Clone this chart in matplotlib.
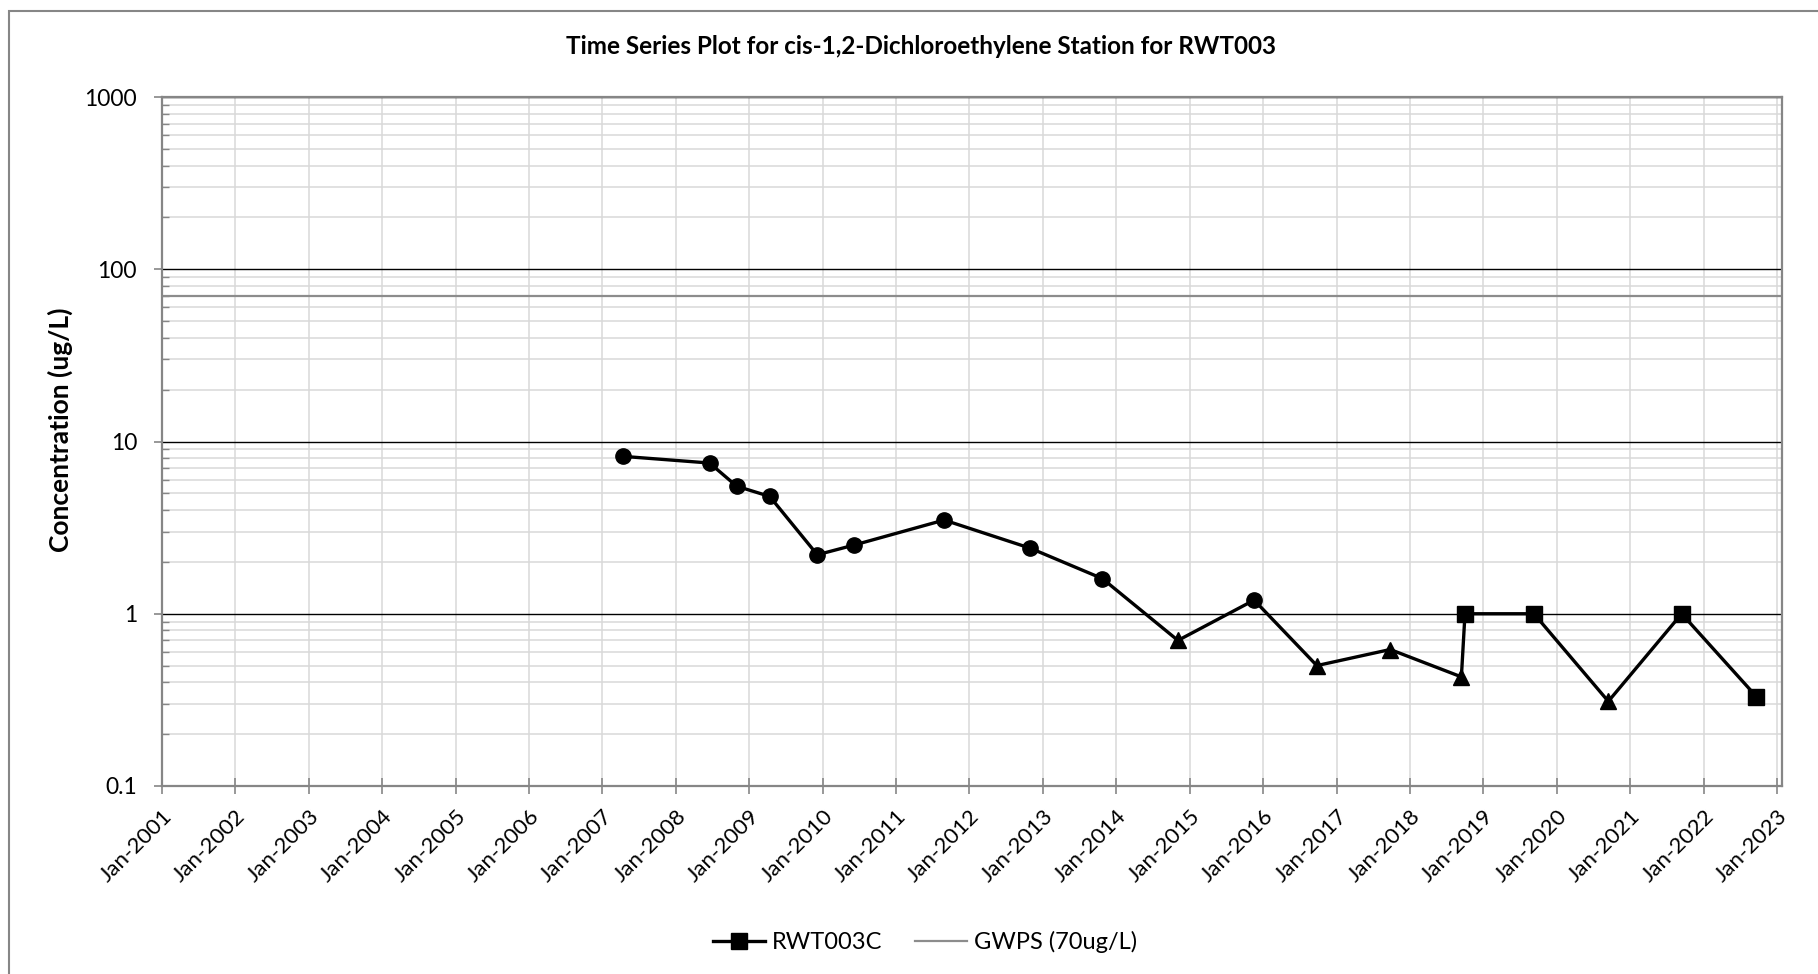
import pandas as pd
import matplotlib.pyplot as plt
import matplotlib.dates as mdates
from matplotlib.ticker import LogLocator, NullFormatter, FixedLocator, FixedFormatter
from matplotlib.lines import Line2D
from matplotlib.patches import Rectangle

plt.rcParams["font.family"] = ["Lato", "DejaVu Sans"]

# sample data
sample_dates = ["2007-04-12", "2008-06-17", "2008-10-30", "2009-04-12", "2009-12-05",
                "2010-06-03", "2011-08-28", "2012-10-30", "2013-10-23", "2014-11-03",
                "2015-11-17", "2016-09-24", "2017-09-24", "2018-09-13", "2018-10-01",
                "2019-09-09", "2020-09-13", "2021-09-13", "2022-09-20"]
conc = [8.2, 7.5, 5.5, 4.8, 2.2, 2.5, 3.5, 2.4, 1.6, 0.7,
        1.2, 0.5, 0.62, 0.43, 1.0, 1.0, 0.31, 1.0, 0.33]
marker_types = ["o", "o", "o", "o", "o", "o", "o", "o", "o", "^",
                "o", "^", "^", "^", "s", "s", "^", "s", "s"]
gwps = 70
year_ticks = list(range(2001, 2024))
y_ticks = [0.1, 1, 10, 100, 1000]
y_labels = ["0.1", "1", "10", "100", "1000"]

df = pd.DataFrame({"date": pd.to_datetime(sample_dates), "conc": conc, "marker": marker_types})

fig = plt.figure(figsize=(18.18, 9.74), dpi=100)
ax = fig.add_axes([162 / 1818, 1 - 786 / 974, 1620 / 1818, 689 / 974])

ax.set_yscale("log")
ax.set_ylim(0.1, 1000)
ax.set_xlim(pd.Timestamp("2001-01-01"), pd.Timestamp("2023-01-25"))

ax.yaxis.set_major_locator(FixedLocator(y_ticks))
ax.yaxis.set_major_formatter(FixedFormatter(y_labels))
ax.yaxis.set_minor_locator(LogLocator(base=10, subs=range(2, 10)))
ax.yaxis.set_minor_formatter(NullFormatter())
ax.xaxis.set_major_locator(FixedLocator(mdates.date2num([pd.Timestamp(f"{y}-01-01") for y in year_ticks])))
ax.xaxis.set_major_formatter(mdates.DateFormatter("%b-%Y"))

# grid lines
ax.grid(True, which="minor", axis="y", color="#d9d9d9", lw=1.1, zorder=0)
ax.grid(True, which="major", axis="y", color="black", lw=1.0, zorder=1)
ax.grid(True, which="major", axis="x", color="#d9d9d9", lw=1.1, zorder=0)
ax.set_axisbelow(True)

# GWPS line
ax.axhline(gwps, color="#8c8c8c", lw=1.6, zorder=2)

# data series
ax.plot(df["date"], df["conc"], color="black", lw=2.4, zorder=3)
sizes = {"o": 11, "s": 12, "^": 12}
for m, g in df.groupby("marker"):
    ax.plot(g["date"], g["conc"], ls="none", marker=m, ms=sizes[m], color="black", zorder=4)

for s in ax.spines.values():
    s.set_color("#868686")
    s.set_linewidth(1.6)

ax.tick_params(axis="y", which="major", direction="out", length=6, width=1.2, color="#868686",
               labelsize=16.5, pad=12)
ax.tick_params(axis="y", which="minor", direction="in", length=5, width=1.0, color="#868686")
ax.tick_params(axis="x", which="major", direction="inout", length=11, width=1.2, color="#868686",
               labelsize=16, pad=9)
for lbl in ax.get_xticklabels():
    lbl.set_rotation(45)
    lbl.set_ha("right")
    lbl.set_rotation_mode("anchor")

ax.set_ylabel("Concentration (ug/L)", fontsize=19, fontweight="bold")
ax.yaxis.set_label_coords(-0.055, 0.517)

fig.text(921 / 1818, 1 - 46 / 974, "Time Series Plot for cis-1,2-Dichloroethylene Station for RWT003",
         ha="center", va="center", fontsize=17.5, fontweight="bold")

handles = [Line2D([], [], color="black", lw=2.4, marker="s", ms=12),
           Line2D([], [], color="#8c8c8c", lw=1.6)]
fig.legend(handles, ["RWT003C", "GWPS (70ug/L)"], loc="center", bbox_to_anchor=(925 / 1818, 1 - 942 / 974),
           ncol=2, frameon=False, fontsize=17, handlelength=2.2, handletextpad=0.3, columnspacing=1.4)

# chart area border
fig.patches.append(Rectangle((9 / 1818, -0.1), 1.2, 1.1 - 11 / 974, transform=fig.transFigure,
                             fill=False, edgecolor="#868686", lw=1.5))

plt.savefig("out.png", dpi=100)
